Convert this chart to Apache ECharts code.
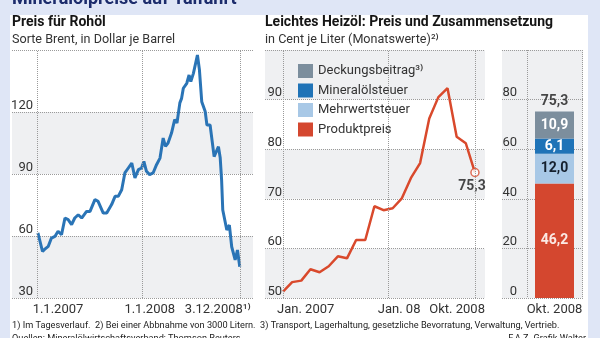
<!DOCTYPE html>
<html><head><meta charset="utf-8">
<script src="https://cdn.jsdelivr.net/npm/echarts@6/dist/echarts.min.js"></script>
<style>
html,body{margin:0;padding:0;}
#wrap{position:relative;width:600px;height:338px;background:#dfe6f6;overflow:hidden;}
#panel{position:absolute;left:10px;top:15px;width:578px;height:330px;background:#fff;}
#c{position:absolute;left:0;top:0;width:600px;height:338px;}
</style>
</head><body>
<div id="wrap"><div id="panel"></div><div id="c"></div></div>
<script>
// ---------- data ----------
const brentDates = ['2007-01-02','2007-01-18','2007-01-25','2007-02-07','2007-02-18','2007-03-02','2007-03-13','2007-03-25','2007-04-06','2007-04-17','2007-04-29','2007-05-10','2007-05-22','2007-06-03','2007-06-20','2007-07-02','2007-07-19','2007-07-30','2007-08-17','2007-08-29','2007-09-15','2007-09-27','2007-10-08','2007-10-20','2007-10-31','2007-11-12','2007-11-24','2007-12-05','2007-12-17','2007-12-28','2008-01-05','2008-01-14','2008-01-25','2008-02-06','2008-02-18','2008-03-01','2008-03-12','2008-03-20','2008-03-29','2008-04-10','2008-04-21','2008-04-29','2008-05-09','2008-05-15','2008-05-21','2008-06-02','2008-06-10','2008-06-16','2008-06-25','2008-07-09','2008-07-16','2008-07-24','2008-08-05','2008-08-11','2008-08-22','2008-09-05','2008-09-20','2008-09-26','2008-10-01','2008-10-05','2008-10-19','2008-10-28','2008-11-05','2008-11-17','2008-11-25','2008-12-03'];
const brentValues = [61.5,52.5,53.5,55,59,59.8,62.3,60.6,68.7,67.9,65.5,68.7,70.3,68.7,71.9,71.9,77.6,76.8,71.1,71.1,75.2,79.2,79.2,82.4,90.5,92.9,95.3,88.1,92.1,92.9,96.1,91.3,89.7,90.5,94.5,97.7,107.4,103.4,105,109.8,116.3,114.7,124.4,126.6,131.5,133.9,137.9,134.7,138.7,147.6,140.3,125,120.2,113.7,113.7,98.4,103.2,98,87,72.6,62.9,65.3,54.8,48.4,53.2,45.1];
const brentRange = ['2006-10-04', '2009-01-18'];
const brentTickDates = ['2007-01-01', '2008-01-01', '2008-12-03'];
const brentTickLabels = ['1.1.2007', '1.1.2008', '3.12.2008\u00B9\u207E'];

const heizoelMonths = ['Jan. 2007','Feb. 2007','Mär. 2007','Apr. 2007','Mai 2007','Jun. 2007','Jul. 2007','Aug. 2007','Sep. 2007','Okt. 2007','Nov. 2007','Dez. 2007','Jan. 2008','Feb. 2008','Mär. 2008','Apr. 2008','Mai 2008','Jun. 2008','Jul. 2008','Aug. 2008','Sep. 2008','Okt. 2008'];
const heizoelValues = [51.3,53.2,53.5,55.8,55.2,56.4,58.4,58.0,61.7,61.7,68.5,67.7,68.1,70.1,74.2,77.2,86.2,90.5,92.3,82.5,81.2,75.3];
const heizoelTickPos = [0, 11.5, 21];
const heizoelTickLabels = ['Jan. 2007', 'Jan. 08', 'Okt. 2008'];

const compCategories = ['Okt. 2008'];
const produktpreis = [46.2];
const mehrwertsteuer = [12.0];
const mineraloelsteuer = [6.1];
const deckungsbeitrag = [10.9];
const totalPrice = [75.3];

// ---------- styles ----------
const FONT = 'Roboto, "Liberation Sans", "DejaVu Sans", sans-serif';
const GRIDC = '#9a9a9a';
const BAND = ['#eff0f2', '#ffffff'];
const C_RED = '#d4472f', C_LB = '#a8c8e6', C_BL = '#1f73b7', C_GR = '#7c8e9d';
const fmt = v => v.toFixed(1).replace('.', ',');

function hidden(extra) {
  return Object.assign({axisLine:{show:false}, axisTick:{show:false}, axisLabel:{show:false}, splitLine:{show:false}}, extra);
}
function yAx(gi, min, max, interval, margin, bands) {
  return {type:'value', gridIndex:gi, min, max, interval,
    axisLine:{show:false}, axisTick:{show:false},
    axisLabel:{inside:true, align:'right', verticalAlign:'bottom', margin, showMaxLabel:false,
      color:'#333', fontSize:13, fontFamily:FONT},
    splitLine:{lineStyle:{type:'dotted', color:GRIDC, width:1}},
    splitArea:{show:true, areaStyle:{color:bands}}};
}
function vlines(vals) {
  return {silent:true, symbol:'none', label:{show:false},
    lineStyle:{type:'dotted', color:GRIDC, width:1}, data: vals.map(v => ({xAxis: v}))};
}

const chart = echarts.init(document.getElementById('c'), null, {renderer:'canvas'});
const barLabel = (color) => ({show:true, position:'inside', fontWeight:'bold', fontSize:14, fontFamily:FONT, color, formatter: p => fmt(p.value)});
const barBase = {type:'bar', xAxisIndex:3, yAxisIndex:3, stack:'z', barWidth:39};

const option = {
  backgroundColor:'transparent',
  animation:false,
  textStyle:{fontFamily:FONT},
  grid:[
    {left:12, top:50, width:241, bottom:40},
    {left:265, top:50, width:220, bottom:40},
    {left:502, top:50, width:81, bottom:40},
    {left:527, top:50, width:55, bottom:40}
  ],
  xAxis:[
    hidden({type:'time', gridIndex:0, min:brentRange[0], max:brentRange[1]}),
    hidden({type:'value', gridIndex:1, min:-1.97, max:22.1}),
    hidden({type:'value', gridIndex:2, min:0, max:1}),
    hidden({type:'category', gridIndex:3, data:compCategories, boundaryGap:true,
      splitLine:{show:true, interval:0, lineStyle:{type:'dotted', color:GRIDC, width:1}}})
  ],
  yAxis:[
    yAx(0, 30, 150, 30, 21, BAND),
    yAx(1, 50, 100, 10, 17, BAND),
    yAx(2, 0, 100, 20, 15, ['#eff0f2']),
    hidden({type:'value', gridIndex:3, min:0, max:100})
  ],
  legend:{orient:'vertical', left:293, top:59, itemWidth:15, itemHeight:14, itemGap:5.5, icon:'rect',
    selectedMode:false, data:['Deckungsbeitrag','Mineralölsteuer','Mehrwertsteuer','Produktpreis'],
    formatter: n => n === 'Deckungsbeitrag' ? 'Deckungsbeitrag\u00B3\u207E' : n,
    textStyle:{fontSize:13, color:'#333', fontFamily:FONT}},
  series:[
    {type:'line', name:'Brent', xAxisIndex:0, yAxisIndex:0, symbol:'none',
      lineStyle:{color:'#2a74b6', width:3}, data: brentDates.map((d,i) => [d, brentValues[i]]),
      markLine: vlines(brentTickDates), z:3},
    {type:'line', name:'Heizöl', xAxisIndex:1, yAxisIndex:1, symbol:'none',
      lineStyle:{color:'#d9492c', width:2.5}, data: heizoelValues.map((v,i) => [i, v]),
      markLine: vlines(heizoelTickPos), z:3},
    {type:'scatter', name:'HeizölLetzter', xAxisIndex:1, yAxisIndex:1, symbol:'circle', symbolSize:8,
      itemStyle:{color:'#fff', borderColor:'#d9492c', borderWidth:1.5},
      label:{show:true, position:'bottom', distance:2, offset:[-3,0], fontWeight:'bold', fontSize:14, color:'#1a1a1a', fontFamily:FONT,
        formatter: p => fmt(p.value[1])},
      data: [[heizoelValues.length - 1, heizoelValues[heizoelValues.length - 1]]], z:4},
    Object.assign({name:'Produktpreis', itemStyle:{color:C_RED}, label: barLabel('#fbe9e4'), data: produktpreis}, barBase),
    Object.assign({name:'Mehrwertsteuer', itemStyle:{color:C_LB}, label: barLabel('#15202e'), data: mehrwertsteuer}, barBase),
    Object.assign({name:'Mineralölsteuer', itemStyle:{color:C_BL}, label: barLabel('#ffffff'), data: mineraloelsteuer}, barBase),
    Object.assign({name:'Deckungsbeitrag', itemStyle:{color:C_GR}, label: barLabel('#ffffff'), data: deckungsbeitrag}, barBase),
    {type:'scatter', name:'Summe', xAxisIndex:3, yAxisIndex:3, symbolSize:0,
      label:{show:true, position:'top', distance:3, fontWeight:'bold', fontSize:14, color:'#1a1a1a', fontFamily:FONT,
        formatter: p => fmt(p.value)},
      data: totalPrice}
  ]
};
chart.setOption(option);

// ---------- texts (titles, x tick labels, footnotes) ----------
function txt(x, y, text, o) {
  return {type:'text', x, y, silent:true, z:10, style:Object.assign({text, fill:'#333', fontFamily:FONT, fontSize:13,
    align:'left', verticalAlign:'middle'}, o || {})};
}
const g = [];
g.push(txt(12, -1, 'Mineralölpreise auf Talfahrt', {fontSize:18, fontWeight:'bold', fill:'#1c2c6c'}));
g.push(txt(12, 22, 'Preis für Rohöl', {fontSize:14, fontWeight:'bold', fill:'#151515'}));
g.push(txt(12, 40, 'Sorte Brent, in Dollar je Barrel', {fontSize:12.6, fill:'#333'}));
g.push(txt(265, 22, 'Leichtes Heizöl: Preis und Zusammensetzung', {fontSize:14, fontWeight:'bold', fill:'#151515'}));
g.push(txt(265, 40, 'in Cent je Liter (Monatswerte)\u00B2\u207E', {fontSize:12.6, fill:'#333'}));

const LY = 310;
const leftPlace = [{dx:-5, align:'left'}, {dx:7, align:'center'}, {dx:11, align:'right'}];
brentTickDates.forEach((d, i) => {
  const x = chart.convertToPixel({xAxisIndex:0}, d);
  g.push(txt(x + leftPlace[i].dx, LY, brentTickLabels[i], {align:leftPlace[i].align}));
});
const midPlace = [{dx:-6, align:'left'}, {dx:11, align:'center'}, {dx:10, align:'right'}];
heizoelTickPos.forEach((m, i) => {
  const x = chart.convertToPixel({xAxisIndex:1}, m);
  g.push(txt(x + midPlace[i].dx, LY, heizoelTickLabels[i], {align:midPlace[i].align}));
});
compCategories.forEach((c) => {
  const x = chart.convertToPixel({xAxisIndex:3}, c);
  g.push(txt(x, LY, c, {align:'center'}));
});
g.push(txt(12, 326, '1) Im Tagesverlauf.  2) Bei einer Abbnahme von 3000 Litern.  3) Transport, Lagerhaltung, gesetzliche Bevorratung, Verwaltung, Vertrieb.', {fontSize:9.2, fill:'#222'}));
g.push(txt(12, 339, 'Quellen: Mineralölwirtschaftsverband; Thomson Reuters', {fontSize:9.2, fill:'#222'}));
g.push(txt(586, 339, 'F.A.Z.-Grafik Walter', {fontSize:9.2, fill:'#222', align:'right'}));
chart.setOption({graphic: g});
</script>
</body></html>
